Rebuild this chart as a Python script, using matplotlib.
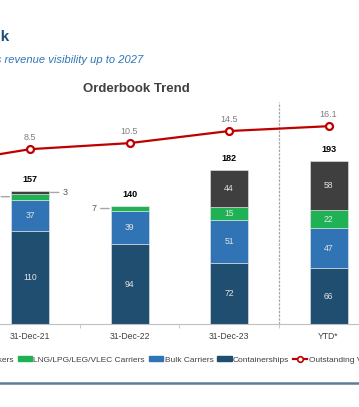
import numpy as np
import matplotlib
matplotlib.use("Agg")
import matplotlib.pyplot as plt
from matplotlib.lines import Line2D
from matplotlib.patches import Patch

plt.rcParams['font.family'] = ['Liberation Sans', 'DejaVu Sans']

# data (first category only shows through the line, its bars sit off-canvas)
cats = ["31-Dec-20", "31-Dec-21", "31-Dec-22", "31-Dec-23", "YTD*"]
containerships = [np.nan, 110, 94, 72, 66]
bulk = [np.nan, 37, 39, 51, 47]
lng = [np.nan, 7, 7, 15, 22]
tankers = [np.nan, 3, 0, 44, 58]
totals = [np.nan, 157, 140, 182, 193]
outstanding = [3.1, 8.5, 10.5, 14.5, 16.1]

series = [("Containerships", containerships, "#1f4e70"),
          ("Bulk Carriers", bulk, "#3174b5"),
          ("LNG/LPG/LEG/VLEC Carriers", lng, "#1fb254"),
          ("Tankers", tankers, "#3f3f3f")]

W, H = 359, 407
fig = plt.figure(figsize=(W / 100, H / 100), dpi=100)

# axes spans full width so the chart gets clipped at both sides like the slide crop
base_px, top_px = 324, 102
ax = fig.add_axes([0, (H - base_px) / H, 1, (base_px - top_px) / H])
step = 99.5
x0 = 1 - 30 / step
xlim = (x0, x0 + W / step)

x = np.arange(len(cats))
bw = 38 / step
bottom = np.zeros(len(cats))
for name, vals, col in series:
    v = np.array(vals, dtype=float)
    ax.bar(x, v, bw, bottom=bottom, color=col, edgecolor="#e8e8e8", linewidth=0.4)
    for i in range(len(cats)):
        if np.isnan(v[i]) or v[i] == 0:
            continue
        yc = bottom[i] + v[i] / 2
        if v[i] >= 10:
            ax.text(x[i], yc, f"{v[i]:.0f}", ha="center", va="center",
                    color="#e3e3e3", fontsize=6.2)
        else:
            side = -1 if name.startswith("LNG") else 1
            xe = x[i] + side * bw / 2
            ax.annotate(f"{v[i]:.0f}", xy=(xe, yc), xytext=(side * 14, 0),
                        textcoords="offset pixels", va="center",
                        ha="right" if side < 0 else "left",
                        color="#595959", fontsize=6.5,
                        arrowprops=dict(arrowstyle="-", color="#a6a6a6", lw=1,
                                        shrinkA=1, shrinkB=1))
    bottom = bottom + np.nan_to_num(v)

for i, t in enumerate(totals):
    if not np.isnan(t):
        ax.annotate(f"{t:.0f}", xy=(x[i], t), xytext=(0, 7), textcoords="offset pixels",
                    ha="center", va="bottom", fontsize=6.5, fontweight="bold", color="black")

for s in ["top", "left", "right"]:
    ax.spines[s].set_visible(False)
ax.spines["bottom"].set_color("#bfbfbf")
ax.set_yticks([])
ax.set_xticks(x[1:])
ax.set_xticklabels(cats[1:], fontsize=6.2, color="#404040")
ax.tick_params(axis="x", length=0, pad=6)
ax.set_xticks(x[:-1] + 0.5, minor=True)
ax.tick_params(axis="x", which="minor", length=3, color="#bfbfbf")

ax.axvline(3.5, color="#a6a6a6", lw=0.9, ls=(0, (2, 1)))

# outstanding value line on its own scale
ax2 = ax.twinx()
ax2.plot(x, outstanding, color="#c00000", lw=1.6, marker="o", ms=5,
         mfc="white", mec="#c00000", mew=1.6, clip_on=False)
for i, v in enumerate(outstanding):
    ax2.annotate(f"{v}", xy=(x[i], v), xytext=(0, 7), textcoords="offset pixels",
                 ha="center", va="bottom", fontsize=6.5, color="#7f7f7f")
ax2.set_ylim(-49.3, 24.1)
ax2.axis("off")
ax.set_xlim(*xlim)
ax.set_ylim(0, (base_px - top_px) / 0.846)

fig.text(136 / W, 1 - 89 / H, "Orderbook Trend", ha="center", va="center",
         fontsize=9.5, fontweight="bold", color="#404040")
fig.text(9.5 / W, 1 - 37 / H, "Orderbook", ha="right", va="center",
         fontsize=11, fontweight="bold", color="#1f4e79")
fig.text(143 / W, 1 - 60 / H, "Strong orderbook provides revenue visibility up to 2027",
         ha="right", va="center", fontsize=8, style="italic", color="#2e75b6")

handles = [Patch(color=c) for _, _, c in series[::-1]]
labels = [n for n, _, _ in series[::-1]]
handles.append(Line2D([], [], color="#c00000", lw=1.6, marker="o", ms=4,
                      mfc="white", mec="#c00000", mew=1.2))
labels.append("Outstanding Value ($bn)")
fig.legend(handles, labels, loc="center left", bbox_to_anchor=(-31 / W, 1 - 360 / H),
           ncol=5, frameon=False, fontsize=6, handlelength=1.7, handleheight=0.5,
           handletextpad=0.15, columnspacing=0.5, borderpad=0, borderaxespad=0,
           labelcolor="#404040")

fig.add_artist(Line2D([0, 1], [1 - 383 / H] * 2, transform=fig.transFigure,
                      color="#5a7d99", lw=1.8))

fig.savefig("out.png", dpi=100)
